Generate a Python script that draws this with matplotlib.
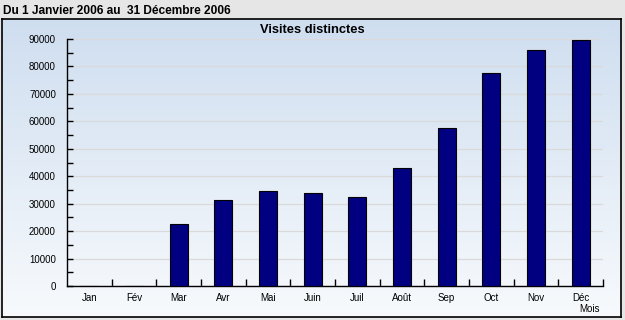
import numpy as np
import matplotlib
matplotlib.use("Agg")
import matplotlib.pyplot as plt

# Data
mois = ['Jan', 'Fév', 'Mar', 'Avr', 'Mai', 'Juin', 'Juil', 'Août',
        'Sep', 'Oct', 'Nov', 'Déc']
visites = [0, 0, 22600, 31300, 34600, 33800, 32300, 42900,
           57600, 77700, 86100, 89700]
yticks = np.arange(0, 90001, 10000)

plt.rcParams['font.family'] = ['Liberation Sans', 'DejaVu Sans']

W, H = 625, 320
fig = plt.figure(figsize=(W / 100, H / 100), dpi=100)
fig.patch.set_facecolor('#e6e6e6')

# header strip
fig.text(3 / W, 1 - 11 / H, 'Du 1 Janvier 2006 au  31 Décembre 2006',
         fontsize=8.6, fontweight='bold', va='center', ha='left')

# panel with vertical gradient
px0, px1, py0, py1 = 2, 621, 19, 317
bg = fig.add_axes([px0 / W, 1 - py1 / H, (px1 - px0) / W, (py1 - py0) / H], zorder=0)
grad = np.linspace(0, 1, 256).reshape(-1, 1)
top = np.array([0.81, 0.87, 0.94])
bot = np.array([0.97, 0.98, 0.99])
img = top[None, None, :] * (1 - grad[:, :, None]) + bot[None, None, :] * grad[:, :, None]
bg.imshow(img, aspect='auto', extent=[0, 1, 0, 1], origin='upper')
bg.set_xlim(0, 1)
bg.set_ylim(0, 1)
bg.set_xticks([])
bg.set_yticks([])
for s in bg.spines.values():
    s.set_color('black')
    s.set_linewidth(1.2)

# main chart
ax = fig.add_axes([67 / W, 1 - 286 / H, (603 - 67) / W, (286 - 39) / H], zorder=1)
ax.patch.set_alpha(0)
x = np.arange(len(mois))
ax.bar(x, visites, width=0.4, color='#000080', edgecolor='black', linewidth=0.8, zorder=3)

ax.set_xlim(-0.5, len(mois) - 0.5)
ax.set_ylim(0, 90000)
ax.set_yticks(yticks)
ax.set_yticklabels([str(v) for v in yticks], fontsize=7)
ax.set_yticks(np.arange(5000, 90000, 10000), minor=True)
ax.yaxis.grid(True, color='#dadada', linewidth=0.9, zorder=0)

ax.set_xticks(np.arange(0.5, len(mois) - 0.5 + 0.01, 1.0))
ax.set_xticklabels([])
ax.set_xticks(x, minor=True)
ax.set_xticklabels(mois, minor=True, fontsize=7)
ax.tick_params(axis='x', which='major', direction='in', length=5, width=1)
ax.tick_params(axis='x', which='minor', length=0, pad=5)
ax.tick_params(axis='y', which='both', direction='in', length=4, width=1, pad=8)

for side in ['top', 'right']:
    ax.spines[side].set_visible(False)
for side in ['left', 'bottom']:
    ax.spines[side].set_linewidth(1)

ax.set_title('Visites distinctes', fontsize=9.3, fontweight='bold', pad=4,
             x=(312 - 67) / (603 - 67))
fig.text(590 / W, 1 - 309 / H, 'Mois', fontsize=7, ha='center', va='center')

fig.savefig('out.png', dpi=100, facecolor=fig.get_facecolor())
